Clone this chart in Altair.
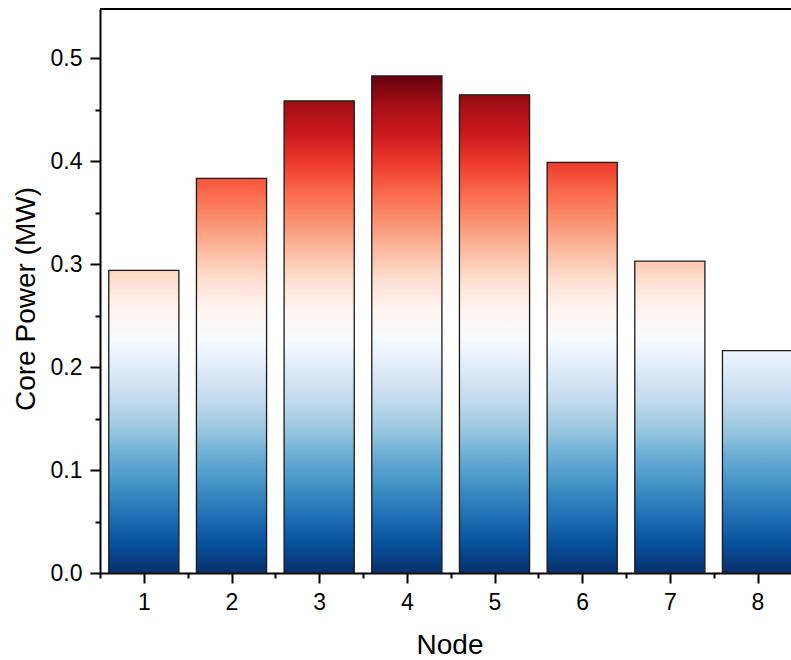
import altair as alt
import pandas as pd

# ---- data ----
nodes = [1, 2, 3, 4, 5, 6, 7, 8]
power = [0.294, 0.3835, 0.4587, 0.483, 0.4646, 0.399, 0.303, 0.216]

x_ticks = [0.5, 1, 1.5, 2, 2.5, 3, 3.5, 4, 4.5, 5, 5.5, 6, 6.5, 7, 7.5, 8]
y_ticks = [0.0, 0.05, 0.1, 0.15, 0.2, 0.25, 0.3, 0.35, 0.4, 0.45, 0.5]

# colour map (blue -> white -> red), evenly spaced from 0 to the max value
cmap = ["#08306b", "#08519c", "#2171b5", "#4292c6", "#6baed6", "#9ecae1",
        "#c6dbef", "#deebf7", "#f7fbff", "#fff5f0", "#fee0d2", "#fcbba1",
        "#fc9272", "#fb6a4a", "#ef3b2c", "#cb181d", "#a50f15", "#67000d"]

df = pd.DataFrame({"node": nodes, "power": power})
vmax = max(power)
stops = [{"offset": i / (len(cmap) - 1), "color": c} for i, c in enumerate(cmap)]

W, H = 691, 564
FONT = "Liberation Sans"

x_axis = alt.Axis(
    values=x_ticks,
    labelExpr="datum.value % 1 === 0 ? format(datum.value, 'd') : ''",
    tickSize={"condition": {"test": "datum.value % 1 !== 0", "value": 5}, "value": 10},
    tickWidth=2, tickColor="black", domainWidth=2, domainColor="black",
    labelFont=FONT, labelFontSize=23, labelColor="black", labelPadding=8,
    labelFlush=False, labelOverlap=False, grid=False,
    title="Node", titleFont=FONT, titleFontSize=28, titleFontWeight="normal",
    titleColor="black", titleX=349.5, titleY=80, titleAlign="center",
    titleBaseline="alphabetic",
)
y_axis = alt.Axis(
    values=y_ticks,
    labelExpr="round(datum.value * 20) % 2 == 0 ? format(datum.value, '.1f') : ''",
    tickSize={"condition": {"test": "round(datum.value * 20) % 2 == 1", "value": 5}, "value": 10},
    tickWidth=2, tickColor="black", domainWidth=2, domainColor="black",
    labelFont=FONT, labelFontSize=23, labelColor="black", labelPadding=8,
    labelFlush=False, labelOverlap=False, grid=False,
    title="Core Power (MW)", titleFont=FONT, titleFontSize=28, titleFontWeight="normal",
    titleColor="black", titleX=-65.5, titleY=289.5, titleAlign="center",
    titleBaseline="alphabetic", titleAngle=-90,
)

base = alt.Chart(df).transform_calculate(
    x0="datum.node - 0.4", x1="datum.node + 0.4"
).encode(
    x=alt.X("x0:Q", scale=alt.Scale(domain=[0.5, 8.382], nice=False, zero=False), axis=x_axis),
    x2="x1:Q",
    y=alt.Y("power:Q", scale=alt.Scale(domain=[0, 0.548], nice=False), axis=y_axis),
    y2=alt.datum(0),
)

layers = []
for n, v in zip(nodes, power):
    grad = {"gradient": "linear", "x1": 0, "x2": 0, "y1": 1, "y2": 1 - vmax / v, "stops": stops}
    layers.append(
        base.transform_filter(alt.datum.node == n).mark_bar(
            fill=grad, stroke="#1a1a1a", strokeWidth=1.3, fillOpacity=1
        )
    )

top_line = alt.Chart(pd.DataFrame({"a": [0]})).mark_rule(
    color="black", strokeWidth=2
).encode(x=alt.value(0), x2=alt.value(W), y=alt.value(0))

chart = alt.layer(*layers, top_line).properties(
    width=W, height=H,
    autosize=alt.AutoSizeParams(type="none"),
    padding={"left": 100, "top": 9, "right": 0, "bottom": 86},
).configure_view(stroke=None)

chart.save("out.html", embed_options={"renderer": "svg", "actions": False})
